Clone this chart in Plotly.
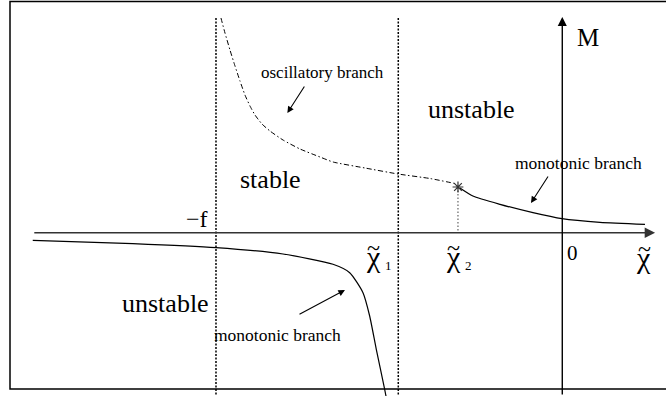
import plotly.graph_objects as go

# Stability diagram M(chi~): coordinates in chi~ units (-f = -1) and M units
F_POS = -1.0          # position of -f
CHI1 = -0.4736        # pole of the monotonic branch
CHI2 = -0.3012        # end of the oscillatory branch
M_STAR = 0.457        # M at chi2

osc_chi = [-0.9856, -0.9740, -0.9596, -0.9451, -0.9307, -0.9163, -0.9018,
           -0.8874, -0.8672, -0.8441, -0.8065, -0.7574, -0.6997, -0.6621,
           -0.5697, -0.4744, -0.3820, -0.3098]
osc_m = [2.147, 1.997, 1.827, 1.667, 1.517, 1.377, 1.267,
         1.177, 1.087, 1.017, 0.927, 0.837, 0.757, 0.707,
         0.647, 0.587, 0.542, 0.492]

mono_up_chi = [-0.2957, -0.2582, -0.1799, -0.0846, -0.0009, 0.1089, 0.2388]
mono_up_m = [0.447, 0.367, 0.284, 0.200, 0.140, 0.104, 0.084]

mono_low_chi = [-1.5291, -1.2403, -1.0000, -0.8065, -0.6621, -0.6139,
                -0.5755, -0.5562, -0.5371, -0.5129, -0.5091]
mono_low_m = [-0.076, -0.110, -0.150, -0.213, -0.316, -0.400,
              -0.600, -0.833, -1.166, -1.566, -1.633]

X_RANGE = [-1.6237, 0.2995]
Y_RANGE = [-1.633, 2.327]
X_AXIS = [-1.529, 0.268]      # chi~ axis extent
Y_AXIS = [-1.633, 2.157]      # M axis extent
V_TOP = 2.147                 # top of the dotted boundaries

SERIF = "Liberation Serif, Times New Roman, serif"

fig = go.Figure()

# dotted stability boundaries
for xv in (F_POS, CHI1):
    fig.add_trace(go.Scatter(x=[xv, xv], y=[V_TOP, Y_RANGE[0]], mode="lines",
                             line=dict(color="black", width=1.5, dash="2px,1.5px"),
                             hoverinfo="skip", showlegend=False))
fig.add_trace(go.Scatter(x=[CHI2, CHI2], y=[M_STAR, 0], mode="lines",
                         line=dict(color="#444", width=1, dash="1.5px,2px"),
                         hoverinfo="skip", showlegend=False))

# branches
fig.add_trace(go.Scatter(x=osc_chi, y=osc_m, mode="lines",
                         line=dict(color="black", width=1, dash="5px,2.5px,1.5px,2.5px",
                                   shape="spline", smoothing=0.5),
                         hoverinfo="skip", showlegend=False))
fig.add_trace(go.Scatter(x=mono_up_chi, y=mono_up_m, mode="lines",
                         line=dict(color="black", width=1.2, shape="spline", smoothing=0.6),
                         hoverinfo="skip", showlegend=False))
fig.add_trace(go.Scatter(x=mono_low_chi, y=mono_low_m, mode="lines",
                         line=dict(color="black", width=1.2, shape="spline", smoothing=0.6),
                         hoverinfo="skip", showlegend=False))
fig.add_trace(go.Scatter(x=[CHI2], y=[M_STAR], mode="markers",
                         marker=dict(symbol="asterisk-open", size=9, color="#333",
                                     line=dict(color="#333", width=1.2)),
                         hoverinfo="skip", showlegend=False))

annotations = []

# coordinate axes with arrowheads
annotations.append(dict(x=X_AXIS[1], y=0, ax=X_AXIS[0], ay=0, xref="x", yref="y",
                        axref="x", ayref="y", text="", showarrow=True, arrowhead=2,
                        arrowsize=1.3, arrowwidth=1.6, arrowcolor="#333", standoff=0))
annotations.append(dict(x=0, y=Y_AXIS[1], ax=0, ay=Y_AXIS[0], xref="x", yref="y",
                        axref="x", ayref="y", text="", showarrow=True, arrowhead=2,
                        arrowsize=1.3, arrowwidth=1.4, arrowcolor="black", standoff=0))

# pointer arrows to the branches
pointers = [
    ((-0.7939, 1.197), (-0.7420, 1.477)),
    ((-0.0904, 0.297), (-0.0384, 0.577)),
    ((-0.6275, -0.573), (-0.7632, -0.823)),
]
for (tx, ty), (sx, sy) in pointers:
    annotations.append(dict(x=tx, y=ty, ax=sx, ay=sy, xref="x", yref="y",
                            axref="x", ayref="y", text="", showarrow=True,
                            arrowhead=2, arrowsize=1.2, arrowwidth=1.1,
                            arrowcolor="black", standoff=0))

labels = [
    ("oscillatory branch", -0.6925, 1.607, 17),
    ("monotonic branch", 0.0468, 0.697, 17.5),
    ("monotonic branch", -0.8224, -1.023, 17.5),
    ("stable", -0.8412, 0.537, 26),
    ("unstable", -0.2622, 1.237, 26),
    ("unstable", -1.1458, -0.703, 26),
    ("\u2212f", -1.0549, 0.137, 24),
    ("0", 0.0309, -0.203, 21),
    ("M", 0.0742, 1.957, 25),
    # chi~ symbols, their subscripts and tildes
    ("\u03c7", -0.5452, -0.237, 30),
    ("\u03c7", -0.3142, -0.237, 30),
    ("\u03c7", 0.2359, -0.252, 30),
    ("1", -0.5021, -0.323, 13),
    ("2", -0.2694, -0.323, 13),
    ("~", -0.5452, -0.150, 24),
    ("~", -0.3142, -0.150, 24),
    ("~", 0.2388, -0.160, 24),
]
for txt, lx, ly, sz in labels:
    annotations.append(dict(x=lx, y=ly, xref="x", yref="y", text=txt, showarrow=False,
                            font=dict(family=SERIF, size=sz, color="black"),
                            xanchor="center", yanchor="middle"))

fig.update_layout(
    width=666, height=396,
    margin=dict(l=0, r=0, t=0, b=0),
    paper_bgcolor="white", plot_bgcolor="white",
    xaxis=dict(range=X_RANGE, visible=False, fixedrange=True),
    yaxis=dict(range=Y_RANGE, visible=False, fixedrange=True),
    annotations=annotations,
    shapes=[dict(type="rect", xref="paper", yref="paper",
                 x0=10 / 666, x1=1.01, y0=1 - 389 / 396, y1=1 - 1.5 / 396,
                 line=dict(color="black", width=1.5), layer="below")],
)

fig.write_html("out.html", config={"displayModeBar": False})
